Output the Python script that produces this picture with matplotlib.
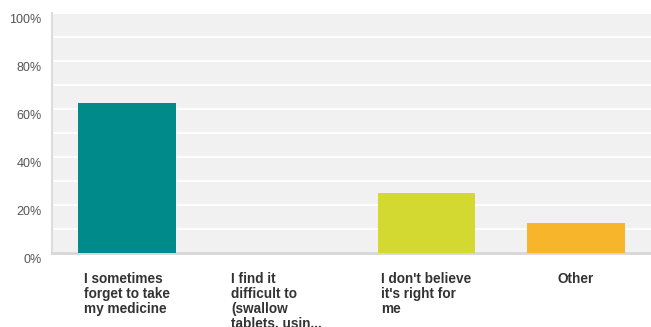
import matplotlib.pyplot as plt
import matplotlib.transforms as mtransforms
import numpy as np

# survey answers and share of respondents (%)
categories = [
    "I sometimes\nforget to take\nmy medicine",
    "I find it\ndifficult to\n(swallow\ntablets, usin...",
    "I don't believe\nit's right for\nme",
    "Other",
]
values = [62.5, 0.0, 25.0, 12.5]
colors = ["#008B8B", "#9B4F96", "#D3D930", "#F7B52B"]
yticks = [0, 20, 40, 60, 80, 100]

W, H = 651, 327
fig = plt.figure(figsize=(W / 100, H / 100), dpi=100)
ax = fig.add_axes([52 / W, (H - 253) / H, (W - 52) / W, 240 / H])
ax.set_facecolor("#F1F1F1")

x = np.arange(len(categories))
ax.bar(x, values, width=0.65, color=colors, zorder=3)

ax.set_xlim(-0.5, len(categories) - 0.5)
ax.set_ylim(0, 100)
ax.set_yticks(yticks)
ax.set_yticklabels([f"{v}%" for v in yticks])
ax.set_yticks(np.arange(0, 101, 10), minor=True)
ax.grid(True, which="both", axis="y", color="white", linewidth=1.3, zorder=1)
ax.tick_params(axis="y", which="both", length=0, pad=7.5,
               labelsize=9, labelcolor="#555555")
ax.tick_params(axis="x", length=0, labelbottom=False)
shift = mtransforms.ScaledTranslation(0, -0.055, fig.dpi_scale_trans)
for lab in ax.get_yticklabels():
    lab.set_family(["Liberation Sans", "DejaVu Sans"])
    lab.set_transform(lab.get_transform() + shift)

for side in ["top", "right"]:
    ax.spines[side].set_visible(False)
ax.spines["left"].set_color("#DDDDDD")
ax.spines["left"].set_linewidth(1.5)
ax.spines["bottom"].set_color("#D6D6D6")
ax.spines["bottom"].set_linewidth(2)

trans = mtransforms.blended_transform_factory(ax.transData, ax.transAxes)
for xi, label in zip(x, categories):
    ax.text(xi, -19 / 240, label, transform=trans, ha="center", va="top",
            multialignment="left", fontsize=9.8, fontweight="bold",
            color="#333333", linespacing=1.08,
            family=["Liberation Sans", "DejaVu Sans"])

fig.savefig("out.png", dpi=100, facecolor="white")
